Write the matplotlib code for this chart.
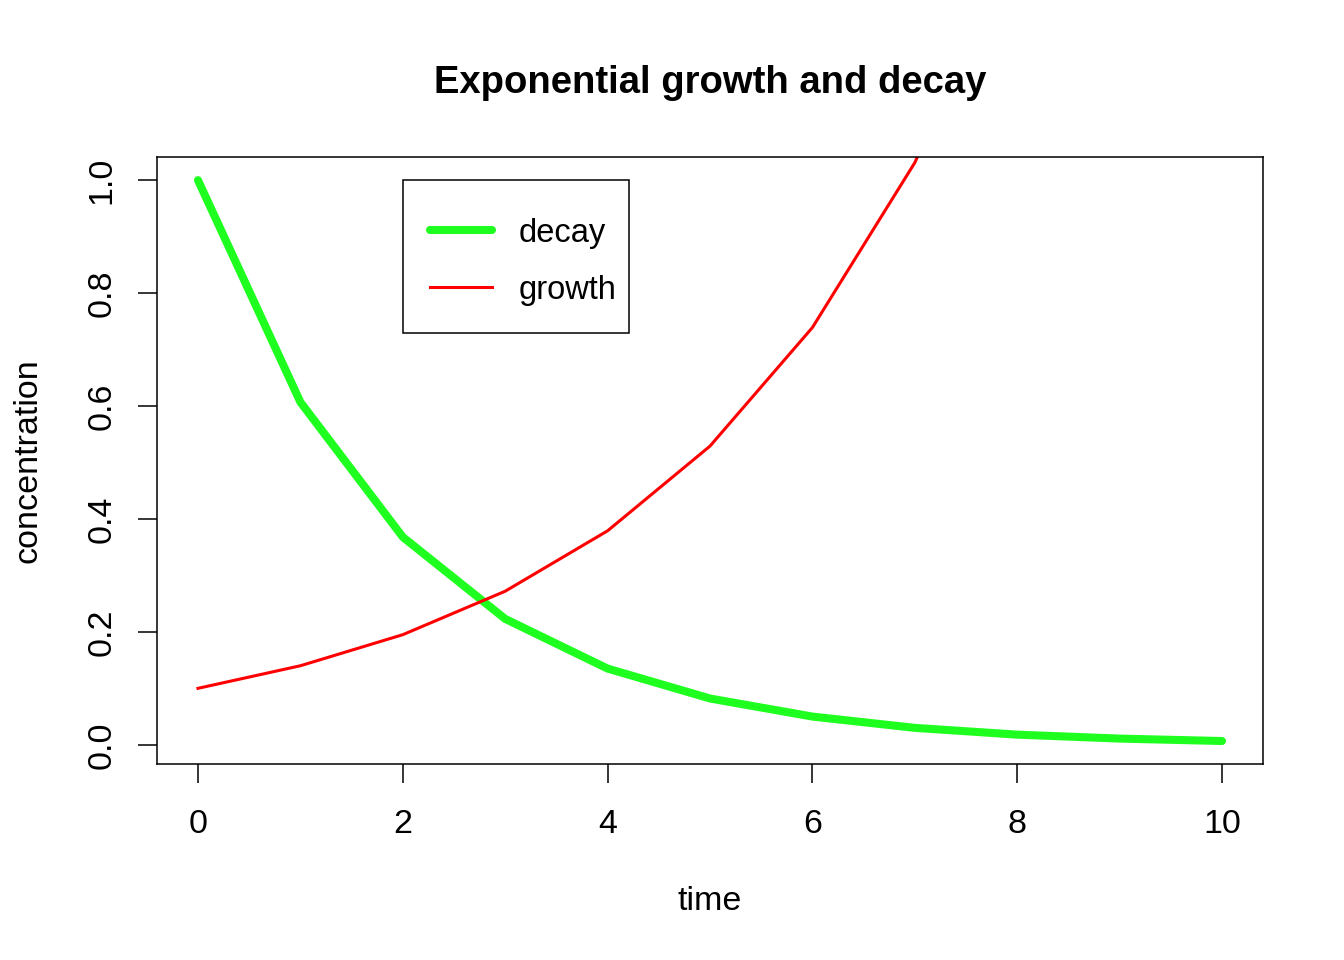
import numpy as np
import matplotlib.pyplot as plt
from matplotlib.patches import Rectangle

plt.rcParams['font.family'] = ['Liberation Sans', 'DejaVu Sans']

time = [0, 1, 2, 3, 4, 5, 6, 7, 8, 9, 10]
decay = [1.0, 0.607, 0.368, 0.223, 0.135, 0.082, 0.050, 0.030, 0.018, 0.011, 0.0067]
growth = [0.100, 0.140, 0.195, 0.272, 0.379, 0.529, 0.739, 1.031, 1.439, 2.009, 2.803]

fig = plt.figure(figsize=(13.44, 9.6), dpi=100)
ax = fig.add_axes([157 / 1344, 1 - 764 / 960, 1106 / 1344, 607 / 960])

ax.plot(time, decay, color="#1FFF1F", lw=5.8, solid_capstyle="round",
        solid_joinstyle="round", label="decay")
ax.plot(time, growth, color="red", lw=2.2, label="growth")

ax.set_xlim(-0.4, 10.4)
ax.set_ylim(-0.034, 1.041)
ax.set_xticks([0, 2, 4, 6, 8, 10])
ax.set_yticks([0.0, 0.2, 0.4, 0.6, 0.8, 1.0])
ax.set_yticklabels(["0.0", "0.2", "0.4", "0.6", "0.8", "1.0"], rotation=90, va="center")
ax.tick_params(length=14, width=1.1, labelsize=24.5, direction="out")
ax.tick_params(axis="x", pad=18.5)
ax.tick_params(axis="y", pad=14.5)
for s in ax.spines.values():
    s.set_linewidth(1.1)

ax.set_title("Exponential growth and decay", fontsize=27.5, fontweight="bold", pad=46)
ax.set_xlabel("time", fontsize=24.5, labelpad=33)
ax.set_ylabel("concentration", fontsize=24.5, labelpad=31)

# R-style legend box (drawn separately so its padding matches)
box = Rectangle((246 / 1106, (764 - 333) / 607), 226 / 1106, 153 / 607,
                transform=ax.transAxes, facecolor="white", edgecolor="black",
                linewidth=1.1, zorder=4)
ax.add_patch(box)
leg = ax.legend(loc="upper left", bbox_to_anchor=(273 / 1106, (764 - 217.6) / 607),
                borderaxespad=0, frameon=False, fontsize=23.5,
                handlelength=1.9, handletextpad=0.8, labelspacing=0.8,
                borderpad=0)
leg.set_zorder(5)

fig.savefig("out.png", dpi=100)
